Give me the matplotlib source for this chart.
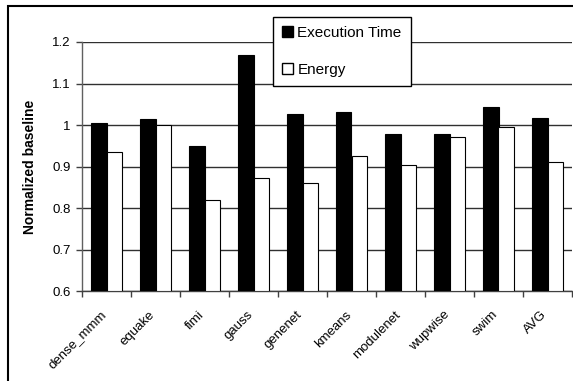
import matplotlib
matplotlib.use("Agg")
import matplotlib.pyplot as plt
import numpy as np
from matplotlib.patches import Rectangle, Patch

plt.rcParams['font.family'] = ['Liberation Sans', 'DejaVu Sans']

categories = ["dense_mmm", "equake", "fimi", "gauss", "genenet", "kmeans",
              "modulenet", "wupwise", "swim", "AVG"]
exec_time = [1.005, 1.015, 0.95, 1.169, 1.027, 1.032, 0.979, 0.979, 1.044, 1.017]
energy = [0.936, 1.0, 0.82, 0.872, 0.86, 0.926, 0.904, 0.971, 0.996, 0.91]
yticks = [0.6, 0.7, 0.8, 0.9, 1.0, 1.1, 1.2]
ytick_labels = ["0.6", "0.7", "0.8", "0.9", "1", "1.1", "1.2"]

W, H = 573, 381
fig = plt.figure(figsize=(W / 100, H / 100), dpi=100)

# outer frame
fig.patches.append(Rectangle((8 / W, 0 - 0.01), 1.1, (H - 6) / H + 0.01,
                             transform=fig.transFigure, fill=False,
                             edgecolor='black', linewidth=1.5, zorder=0))

ax = fig.add_axes([82 / W, 1 - 291.3 / H, (572 - 82) / W, (291.3 - 42) / H])

x = np.arange(len(categories))
bw = 0.31
ax.bar(x - bw / 2, np.array(exec_time) - 0.6, bw, bottom=0.6, color='black',
       edgecolor='black', linewidth=0.8, zorder=3, label='Execution Time')
ax.bar(x + bw / 2, np.array(energy) - 0.6, bw, bottom=0.6, color='white',
       edgecolor='black', linewidth=0.8, zorder=3, label='Energy')

ax.set_ylim(0.6, 1.2)
ax.set_xlim(-0.5, len(categories) - 0.5)
ax.set_yticks(yticks)
ax.set_yticklabels(ytick_labels, fontsize=9.5)
ax.yaxis.grid(True, color='#303030', linewidth=1.0, zorder=0)
ax.set_axisbelow(True)

ax.set_xticks(x)
ax.set_xticklabels(categories, rotation=45, ha='right', va='baseline',
                   rotation_mode='anchor', fontsize=9.5)
ax.tick_params(axis='x', which='major', length=0, pad=17)
ax.set_xticks(np.arange(-0.5, len(categories) + 0.5, 1.0), minor=True)
ax.tick_params(axis='x', which='minor', length=4, color='#404040', width=1.0,
               direction='out')
ax.tick_params(axis='y', length=4, color='#404040', width=1.0, direction='out', pad=4)

for s in ['top', 'right']:
    ax.spines[s].set_visible(False)
ax.spines['left'].set_color('#606060')
ax.spines['bottom'].set_color('#404040')
ax.spines['left'].set_linewidth(1.0)
ax.spines['bottom'].set_linewidth(1.0)

ax.set_ylabel("Normalized baseline", fontsize=10, fontweight='bold', labelpad=11)

handles = [Patch(facecolor='black', edgecolor='black'),
           Patch(facecolor='white', edgecolor='black')]
leg = fig.legend(handles, ['Execution Time', 'Energy'],
                 loc='upper left', bbox_to_anchor=(273 / W, 1 - 17 / H),
                 bbox_transform=fig.transFigure, fontsize=11, frameon=True,
                 fancybox=False, edgecolor='black', framealpha=1,
                 handlelength=0.7, handleheight=0.7, handletextpad=0.3,
                 labelspacing=1.5, borderpad=0.6, borderaxespad=0)
leg.get_frame().set_linewidth(1.0)
leg.set_zorder(10)

fig.savefig("out.png", dpi=100)
